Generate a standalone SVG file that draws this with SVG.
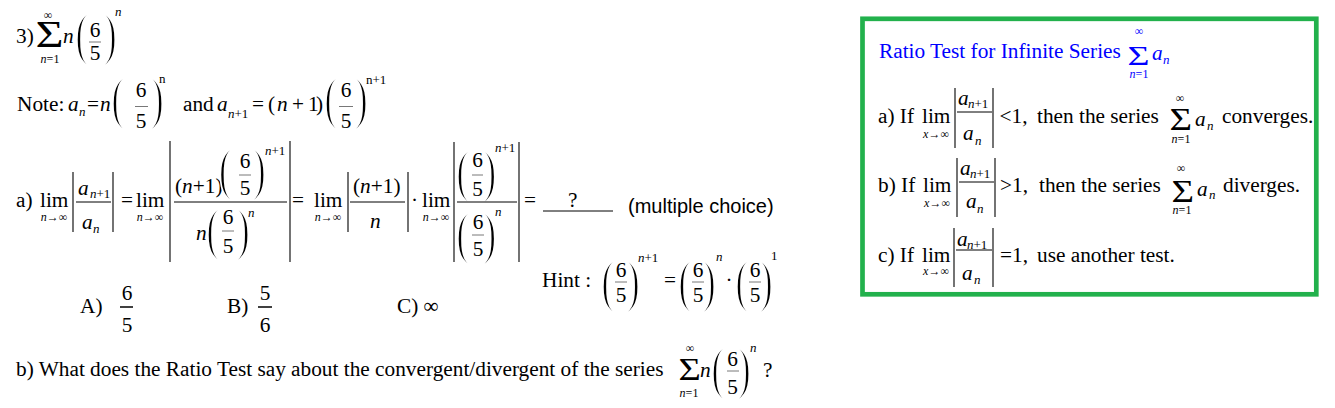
<svg xmlns="http://www.w3.org/2000/svg" width="1335" height="408" viewBox="0 0 1335 408">
<style>
text{font-family:"Liberation Serif","Times New Roman",serif;font-size:21.3px;fill:#000}
.i{font-style:italic}
.s{font-size:13px}
.xs{font-size:12px}
.bp{font-size:60px;stroke:#fff;stroke-width:2.2px}
.m{text-anchor:middle}
.sans{font-family:"Liberation Sans",Arial,sans-serif;font-size:20px}
.bl{fill:#0000ff}
.ab{stroke:#000;stroke-width:1.1}
.fb{stroke:#000;stroke-width:1}
.fl{stroke:#555;stroke-width:0.8}
.fc{stroke:#000;stroke-width:1.5}
</style>
<rect width="1335" height="408" fill="#fff"/>

<g id="problem-statement">
  <text x="16" y="43">3)</text>
  <text transform="translate(35.5,47) scale(1.3,1)" style="font-size:37px">Σ</text>
  <text class="xs m" x="48" y="19">∞</text>
  <text class="xs m" x="50" y="63"><tspan class="i">n</tspan>=1</text>
  <text class="i" x="63" y="43">n</text>
  <text class="bp" transform="translate(74.9,54) scale(.72,1)">(</text>
  <text class="m" x="95" y="37">6</text>
  <line class="fl" x1="89" y1="42" x2="101" y2="42"/>
  <text class="m" x="95" y="60">5</text>
  <text class="bp" transform="translate(102.75,54) scale(.72,1)">)</text>
  <text class="s i" x="115" y="16">n</text>
</g>

<g id="note-line">
  <text x="17" y="111">Note:</text>
  <text class="i" x="68" y="111">a</text>
  <text class="s i" x="79" y="116">n</text>
  <text x="87" y="111">=</text>
  <text class="i" x="100" y="111">n</text>
  <text class="bp" transform="translate(110.9,118) scale(.72,1)">(</text>
  <text class="m" x="141" y="97">6</text>
  <line class="fl" x1="135" y1="106.5" x2="148" y2="106.5"/>
  <text class="m" x="141" y="128">5</text>
  <text class="bp" transform="translate(149.75,118) scale(.72,1)">)</text>
  <text class="s" x="159" y="83">n</text>
  <text x="183" y="111">and</text>
  <text class="i" x="217" y="111">a</text>
  <text class="s" x="228" y="118"><tspan class="i">n</tspan>+1</text>
  <text x="252" y="111">=</text>
  <text x="268" y="111">(</text>
  <text class="i" x="277" y="111">n</text>
  <text x="292" y="111">+</text>
  <text x="308" y="111">1</text>
  <text x="316" y="111">)</text>
  <text class="bp" transform="translate(323.9,118) scale(.72,1)">(</text>
  <text class="m" x="346" y="97">6</text>
  <line class="fl" x1="339" y1="106.5" x2="353" y2="106.5"/>
  <text class="m" x="346" y="128">5</text>
  <text class="bp" transform="translate(353.75,118) scale(.72,1)">)</text>
  <text class="s" x="366" y="84">n+1</text>
</g>

<g id="part-a">
  <text x="16" y="207">a)</text>
  <text x="40" y="207">lim</text>
  <text class="xs m" x="54" y="221"><tspan class="i">n</tspan>→∞</text>
  <line class="ab" x1="73" y1="172" x2="73" y2="232"/>
  <line class="ab" x1="113" y1="172" x2="113" y2="232"/>
  <text class="i" x="78" y="195">a</text>
  <text class="s" x="90" y="198"><tspan class="i">n</tspan>+1</text>
  <line class="fb" x1="76" y1="202" x2="111" y2="202"/>
  <text class="i" x="82" y="229">a</text>
  <text class="s i" x="93" y="233">n</text>
  <text x="121" y="207">=</text>
  <text x="136" y="207">lim</text>
  <text class="xs m" x="150" y="221"><tspan class="i">n</tspan>→∞</text>
  <line class="ab" x1="170" y1="141" x2="170" y2="262"/>
  <line class="ab" x1="290" y1="141" x2="290" y2="262"/>
  <text x="175" y="193">(<tspan class="i">n</tspan>+1)</text>
  <text class="bp" transform="translate(218.4,189) scale(.72,1)">(</text>
  <text class="m" x="245" y="168">6</text>
  <line class="fl" x1="239" y1="175" x2="251" y2="175"/>
  <text class="m" x="245" y="195">5</text>
  <text class="bp" transform="translate(251.75,189) scale(.72,1)">)</text>
  <text class="s" x="265" y="155"><tspan class="i">n</tspan>+1</text>
  <line class="fb" x1="174" y1="202" x2="287" y2="202"/>
  <text class="i" x="196" y="240">n</text>
  <text class="bp" transform="translate(205.9,249) scale(.72,1)">(</text>
  <text class="m" x="228" y="224">6</text>
  <line class="fl" x1="222" y1="231" x2="234" y2="231"/>
  <text class="m" x="228" y="253">5</text>
  <text class="bp" transform="translate(235.75,249) scale(.72,1)">)</text>
  <text class="s i" x="248" y="217">n</text>
  <text x="292" y="207">=</text>
  <text x="314" y="207">lim</text>
  <text class="xs m" x="328" y="221"><tspan class="i">n</tspan>→∞</text>
  <line class="ab" x1="348" y1="172" x2="348" y2="232"/>
  <line class="ab" x1="408" y1="172" x2="408" y2="232"/>
  <text x="353" y="193">(<tspan class="i">n</tspan>+1)</text>
  <line class="fb" x1="350" y1="202" x2="405" y2="202"/>
  <text class="i" x="370" y="228">n</text>
  <text x="411" y="207">·</text>
  <text x="422" y="207">lim</text>
  <text class="xs m" x="436" y="221"><tspan class="i">n</tspan>→∞</text>
  <line class="ab" x1="454" y1="142" x2="454" y2="262"/>
  <line class="ab" x1="519" y1="142" x2="519" y2="262"/>
  <text class="bp" transform="translate(455.9,191) scale(.72,1)">(</text>
  <text class="m" x="477.5" y="167">6</text>
  <line class="fl" x1="472" y1="175" x2="483" y2="175"/>
  <text class="m" x="477.5" y="196">5</text>
  <text class="bp" transform="translate(482.25,191) scale(.72,1)">)</text>
  <text class="s" x="495" y="152"><tspan class="i">n</tspan>+1</text>
  <line class="fb" x1="457" y1="202" x2="517" y2="202"/>
  <text class="bp" transform="translate(455.9,253) scale(.72,1)">(</text>
  <text class="m" x="478" y="229">6</text>
  <line class="fl" x1="472" y1="235" x2="484" y2="235"/>
  <text class="m" x="478" y="256">5</text>
  <text class="bp" transform="translate(482.25,253) scale(.72,1)">)</text>
  <text class="s i" x="495" y="216">n</text>
  <text x="524" y="207">=</text>
  <text x="568" y="207">?</text>
  <line class="fb" x1="543" y1="211" x2="613" y2="211"/>
  <text class="sans" x="628" y="213">(multiple choice)</text>
</g>

<g id="hint">
  <text x="542" y="287">Hint :</text>
  <text class="bp" transform="translate(600.9,301) scale(.72,1)">(</text>
  <text class="m" x="621" y="277">6</text>
  <line class="fl" x1="615" y1="282" x2="627" y2="282"/>
  <text class="m" x="621" y="302">5</text>
  <text class="bp" transform="translate(625.75,301) scale(.72,1)">)</text>
  <text class="s" x="638" y="262"><tspan class="i">n</tspan>+1</text>
  <text x="664" y="287">=</text>
  <text class="bp" transform="translate(677.9,301) scale(.72,1)">(</text>
  <text class="m" x="698" y="277">6</text>
  <line class="fl" x1="692" y1="282" x2="704" y2="282"/>
  <text class="m" x="698" y="302">5</text>
  <text class="bp" transform="translate(701.75,301) scale(.72,1)">)</text>
  <text class="s i" x="716" y="261">n</text>
  <text x="725.4" y="287">·</text>
  <text class="bp" transform="translate(734.9,301) scale(.72,1)">(</text>
  <text class="m" x="755" y="277">6</text>
  <line class="fl" x1="749" y1="282" x2="761" y2="282"/>
  <text class="m" x="755" y="302">5</text>
  <text class="bp" transform="translate(758.75,301) scale(.72,1)">)</text>
  <text class="s" x="771" y="260">1</text>
</g>

<g id="choices">
  <text x="80" y="313">A)</text>
  <text class="m" x="127" y="300">6</text>
  <line class="fc" x1="120" y1="307" x2="133" y2="307"/>
  <text class="m" x="127" y="332">5</text>
  <text x="227" y="313">B)</text>
  <text class="m" x="265" y="300">5</text>
  <line class="fc" x1="258" y1="307" x2="272" y2="307"/>
  <text class="m" x="265" y="332">6</text>
  <text x="397" y="313">C) ∞</text>
</g>

<g id="part-b">
  <text x="16" y="376">b) What does the Ratio Test say about the convergent/divergent of the series</text>
  <text transform="translate(678.5,380) scale(1.2,1)" style="font-size:32px">Σ</text>
  <text class="xs m" x="690" y="352">∞</text>
  <text class="xs m" x="689" y="397"><tspan class="i">n</tspan>=1</text>
  <text class="i" x="700" y="377">n</text>
  <text class="bp" transform="translate(710.9,388) scale(.72,1)">(</text>
  <text class="m" x="732.5" y="366">6</text>
  <line class="fl" x1="727" y1="371" x2="739" y2="371"/>
  <text class="m" x="732.5" y="394">5</text>
  <text class="bp" transform="translate(736.75,388) scale(.72,1)">)</text>
  <text class="s i" x="750" y="352">n</text>
  <text x="763" y="377">?</text>
</g>

<g id="ratio-test-box">
  <rect x="862.5" y="18.8" width="453.8" height="275.5" fill="none" stroke="#22b14c" stroke-width="4.7"/>
  <text class="bl" x="879" y="58">Ratio Test for Infinite Series</text>
  <text class="bl" transform="translate(1127.5,65) scale(1.35,1)" style="font-size:28px">Σ</text>
  <text class="xs m bl" x="1139" y="35">∞</text>
  <text class="xs m bl" x="1139" y="78"><tspan class="i">n</tspan>=1</text>
  <text class="i bl" x="1152" y="60">a</text>
  <text class="s i bl" x="1163" y="64">n</text>

  <text x="878" y="123">a) If</text>
  <text x="922" y="123">lim</text>
  <text class="xs m" x="936" y="138"><tspan class="i">x</tspan>→∞</text>
  <line class="ab" x1="955" y1="88" x2="955" y2="148"/>
  <line class="ab" x1="993" y1="88" x2="993" y2="148"/>
  <text class="i" x="958" y="105">a</text>
  <text class="s" x="968" y="108"><tspan class="i">n</tspan>+1</text>
  <line class="fb" x1="957" y1="112" x2="992" y2="112"/>
  <text class="i" x="963" y="140">a</text>
  <text class="s i" x="975" y="145">n</text>
  <text x="999.5" y="123">&lt;1,</text>
  <text x="1037" y="123">then the series</text>
  <text transform="translate(1169.5,130) scale(1.25,1)" style="font-size:31px">Σ</text>
  <text class="xs m" x="1180" y="102">∞</text>
  <text class="xs m" x="1181" y="143"><tspan class="i">n</tspan>=1</text>
  <text class="i" x="1195" y="126">a</text>
  <text class="s i" x="1207" y="130">n</text>
  <text x="1222" y="123">converges.</text>

  <text x="878" y="192">b) If</text>
  <text x="923" y="192">lim</text>
  <text class="xs m" x="937" y="207"><tspan class="i">x</tspan>→∞</text>
  <line class="ab" x1="957" y1="158" x2="957" y2="217"/>
  <line class="ab" x1="995" y1="158" x2="995" y2="217"/>
  <text class="i" x="960" y="175">a</text>
  <text class="s" x="970" y="178"><tspan class="i">n</tspan>+1</text>
  <line class="fb" x1="959" y1="182" x2="994" y2="182"/>
  <text class="i" x="966" y="208">a</text>
  <text class="s i" x="977" y="213">n</text>
  <text x="1000" y="192">&gt;1,</text>
  <text x="1039" y="192">then the series</text>
  <text transform="translate(1171.5,202) scale(1.25,1)" style="font-size:31px">Σ</text>
  <text class="xs m" x="1181" y="172">∞</text>
  <text class="xs m" x="1182" y="214"><tspan class="i">n</tspan>=1</text>
  <text class="i" x="1197" y="196">a</text>
  <text class="s i" x="1209" y="199">n</text>
  <text x="1223" y="192">diverges.</text>

  <text x="878" y="262">c) If</text>
  <text x="922" y="262">lim</text>
  <text class="xs m" x="936" y="275"><tspan class="i">x</tspan>→∞</text>
  <line class="ab" x1="954" y1="228" x2="954" y2="287"/>
  <line class="ab" x1="993" y1="228" x2="993" y2="287"/>
  <text class="i" x="957" y="246">a</text>
  <text class="s" x="967" y="249"><tspan class="i">n</tspan>+1</text>
  <line class="fb" x1="956" y1="250" x2="992" y2="250"/>
  <text class="i" x="962" y="280">a</text>
  <text class="s i" x="974" y="284">n</text>
  <text x="1000" y="262">=1,</text>
  <text x="1037" y="262">use another test.</text>
</g>
</svg>
